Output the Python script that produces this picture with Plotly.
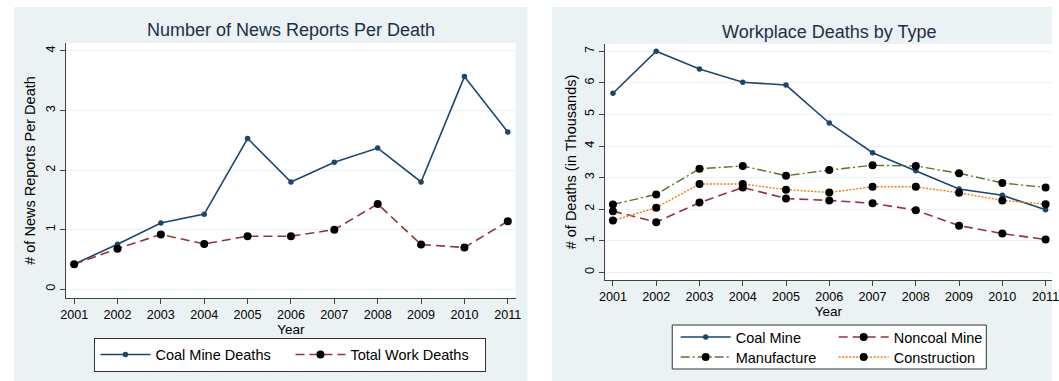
import plotly.graph_objects as go

years = [2001, 2002, 2003, 2004, 2005, 2006, 2007, 2008, 2009, 2010, 2011]

# Left panel: news reports per death
coal_reports = [0.42, 0.755, 1.11, 1.26, 2.53, 1.80, 2.13, 2.37, 1.80, 3.57, 2.64]
total_reports = [0.42, 0.68, 0.92, 0.76, 0.89, 0.89, 1.00, 1.43, 0.75, 0.70, 1.14]

# Right panel: workplace deaths by type (thousands)
coal_deaths = [5.67, 7.00, 6.44, 6.02, 5.93, 4.73, 3.79, 3.22, 2.64, 2.44, 1.98]
noncoal_deaths = [1.94, 1.59, 2.21, 2.69, 2.34, 2.28, 2.19, 1.97, 1.48, 1.23, 1.04]
manufacture_deaths = [2.15, 2.47, 3.28, 3.37, 3.06, 3.24, 3.39, 3.37, 3.14, 2.83, 2.69]
construction_deaths = [1.64, 2.05, 2.80, 2.80, 2.62, 2.53, 2.71, 2.71, 2.52, 2.28, 2.16]

left_yticks = [0, 1, 2, 3, 4]
right_yticks = [0, 1, 2, 3, 4, 5, 6, 7]

W, H = 1059, 381
FONT = "Liberation Sans, Arial, sans-serif"
NAVY = "#1a476f"
MAROON = "#90353b"
GREEN = "#55752f"
ORANGE = "#f07f0a"
PANEL = "#eaf2f3"
AXC = "#444444"


def px(x):
    return x / W


def py(y):
    return (H - y) / H


fig = go.Figure()

# Left traces
fig.add_trace(go.Scatter(x=years, y=coal_reports, name="Coal Mine Deaths", mode="lines+markers",
                         line=dict(color=NAVY, width=1.6), marker=dict(color=NAVY, size=5.5),
                         xaxis="x", yaxis="y", legend="legend"))
fig.add_trace(go.Scatter(x=years, y=total_reports, name="Total Work Deaths", mode="lines+markers",
                         line=dict(color=MAROON, width=1.6, dash="9px,5px"),
                         marker=dict(color="black", size=8),
                         xaxis="x", yaxis="y", legend="legend"))

# Right traces
fig.add_trace(go.Scatter(x=years, y=coal_deaths, name="Coal Mine", mode="lines+markers",
                         line=dict(color=NAVY, width=1.6), marker=dict(color=NAVY, size=5.5),
                         xaxis="x2", yaxis="y2", legend="legend2"))
fig.add_trace(go.Scatter(x=years, y=noncoal_deaths, name="Noncoal Mine", mode="lines+markers",
                         line=dict(color=MAROON, width=1.6, dash="9px,5px"),
                         marker=dict(color="black", size=8),
                         xaxis="x2", yaxis="y2", legend="legend2"))
fig.add_trace(go.Scatter(x=years, y=manufacture_deaths, name="Manufacture", mode="lines+markers",
                         line=dict(color=GREEN, width=1.4, dash="9px,3px,2px,3px"),
                         marker=dict(color="black", size=8),
                         xaxis="x2", yaxis="y2", legend="legend3"))
fig.add_trace(go.Scatter(x=years, y=construction_deaths, name="Construction", mode="lines+markers",
                         line=dict(color=ORANGE, width=1.4, dash="2px,1.5px"),
                         marker=dict(color="black", size=8),
                         xaxis="x2", yaxis="y2", legend="legend3"))

axis_common = dict(showline=True, linecolor=AXC, linewidth=1, ticks="outside", ticklen=5,
                   tickcolor=AXC, tickfont=dict(family=FONT, size=12.6, color="black"),
                   mirror=False, ticklabeloverflow="allow")

shapes = [
    dict(type="rect", xref="paper", yref="paper", x0=px(8), x1=px(528), y0=0, y1=py(7),
         fillcolor=PANEL, line=dict(width=0), layer="below"),
    dict(type="rect", xref="paper", yref="paper", x0=px(553), x1=1, y0=0, y1=py(7),
         fillcolor=PANEL, line=dict(width=0), layer="below"),
    dict(type="rect", xref="x domain", yref="y domain", x0=0, x1=1, y0=0, y1=1,
         fillcolor="white", line=dict(width=0), layer="below"),
    dict(type="rect", xref="x2 domain", yref="y2 domain", x0=0, x1=1, y0=0, y1=1,
         fillcolor="white", line=dict(width=0), layer="below"),
    # right legend box
    dict(type="rect", xref="paper", yref="paper", x0=px(674.5), x1=px(992.5), y0=py(369), y1=py(325),
         fillcolor="white", line=dict(color="#333333", width=1), layer="below"),
]

annotations = [
    dict(text="Number of News Reports Per Death", x=px(288.5), y=py(30), xref="paper", yref="paper",
         showarrow=False, xanchor="center", yanchor="middle",
         font=dict(family=FONT, size=18, color="#1e2f47")),
    dict(text="Workplace Deaths by Type", x=px(833), y=py(32), xref="paper", yref="paper",
         showarrow=False, xanchor="center", yanchor="middle",
         font=dict(family=FONT, size=18, color="#1e2f47")),
]

legend_font = dict(family=FONT, size=14.5, color="black")

fig.update_layout(
    width=W, height=H,
    margin=dict(l=0, r=0, t=0, b=0),
    paper_bgcolor="white",
    plot_bgcolor="white",
    shapes=shapes,
    annotations=annotations,
    xaxis=dict(domain=[px(61), px(516)], range=[2000.818, 2011.182], tickmode="array",
               tickvals=years, ticktext=[str(y) for y in years], showgrid=False, zeroline=False,
               title=dict(text="Year", font=dict(family=FONT, size=13.5, color="black"), standoff=0),
               anchor="y", **axis_common),
    yaxis=dict(domain=[py(298), py(43)], range=[-0.148, 4.134], tickmode="array",
               tickvals=left_yticks, ticktext=[str(v) for v in left_yticks], tickangle=-90,
               showgrid=True, gridcolor=PANEL, gridwidth=1, zeroline=False,
               title=dict(text="# of News Reports Per Death", font=dict(family=FONT, size=14.5, color="black"),
                          standoff=5),
               anchor="x", **axis_common),
    xaxis2=dict(domain=[px(606), 1], range=[2000.806, 2011.148], tickmode="array",
                tickvals=years, ticktext=[str(y) for y in years], showgrid=False, zeroline=False,
                title=dict(text="Year", font=dict(family=FONT, size=13.5, color="black"), standoff=0),
                anchor="y2", **axis_common),
    yaxis2=dict(domain=[py(280), py(44)], range=[-0.24, 7.23], tickmode="array",
                tickvals=right_yticks, ticktext=[str(v) for v in right_yticks], tickangle=-90,
                showgrid=True, gridcolor=PANEL, gridwidth=1, zeroline=False,
                title=dict(text="# of Deaths (in Thousands)", font=dict(family=FONT, size=14.5, color="black"),
                           standoff=2),
                anchor="x2", **axis_common),
    legend=dict(orientation="h", x=px(288), y=py(354.5), xanchor="center", yanchor="middle",
                bgcolor="white", bordercolor="#333333", borderwidth=1, font=legend_font,
                itemwidth=50, entrywidth=130, entrywidthmode="pixels"),
    legend2=dict(orientation="h", x=px(678), y=py(337), xanchor="left", yanchor="middle",
                 bgcolor="rgba(0,0,0,0)", borderwidth=0, font=legend_font,
                 itemwidth=50, entrywidth=93, entrywidthmode="pixels"),
    legend3=dict(orientation="h", x=px(678), y=py(357), xanchor="left", yanchor="middle",
                 bgcolor="rgba(0,0,0,0)", borderwidth=0, font=legend_font,
                 itemwidth=50, entrywidth=93, entrywidthmode="pixels"),
    showlegend=True,
)

fig.write_html("out.html")
